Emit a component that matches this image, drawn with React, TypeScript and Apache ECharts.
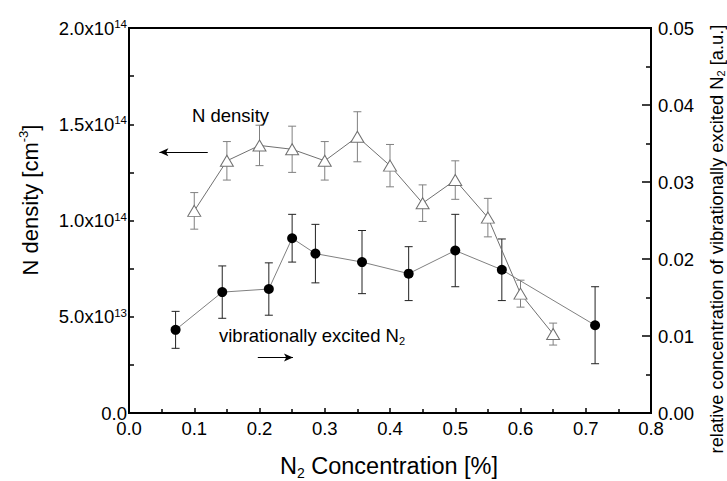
import React, { useEffect, useRef } from "react";
import * as echarts from "echarts";

// N density (left axis), triangles
const nX = [0.1, 0.15, 0.2, 0.25, 0.3, 0.35, 0.4, 0.45, 0.5, 0.55, 0.6, 0.65];
const nDensity = [1.05e14, 1.31e14, 1.39e14, 1.37e14, 1.31e14, 1.435e14, 1.285e14, 1.09e14, 1.21e14, 1.015e14, 0.62e14, 0.41e14];
const nErr = [0.095e14, 0.1e14, 0.105e14, 0.12e14, 0.1e14, 0.13e14, 0.11e14, 0.095e14, 0.1e14, 0.1e14, 0.07e14, 0.057e14];

// vibrationally excited N2 (right axis), circles
const vX = [0.0714, 0.1429, 0.2143, 0.25, 0.2857, 0.3571, 0.4286, 0.5, 0.5714, 0.7143];
const vib = [0.0108, 0.0157, 0.0161, 0.0227, 0.0207, 0.0196, 0.0181, 0.0211, 0.0186, 0.0114];
const vErr = [0.0024, 0.0034, 0.0034, 0.0031, 0.0038, 0.0041, 0.0035, 0.0047, 0.004, 0.005];

const xTicks = { min: 0, max: 0.8, interval: 0.1 };
const yLeftTicks = { min: 0, max: 2e14, interval: 0.5e14 };
const yRightTicks = { min: 0, max: 0.05, interval: 0.01 };

const FONT = "'Liberation Sans', Arial, Helvetica, sans-serif";
const TICK_FS = 18.5;

function errorBar(color: string) {
  return (params: any, api: any) => {
    const x = api.value(0);
    const lo = api.coord([x, api.value(1)]);
    const hi = api.coord([x, api.value(2)]);
    const w = 4;
    const style = { stroke: color, lineWidth: 1 };
    return {
      type: "group",
      children: [
        { type: "line", shape: { x1: lo[0], y1: lo[1], x2: hi[0], y2: hi[1] }, style },
        { type: "line", shape: { x1: lo[0] - w, y1: lo[1], x2: lo[0] + w, y2: lo[1] }, style },
        { type: "line", shape: { x1: hi[0] - w, y1: hi[1], x2: hi[0] + w, y2: hi[1] }, style },
      ],
    };
  };
}

export default function App() {
  const ref = useRef<HTMLDivElement>(null);
  useEffect(() => {
    if (!ref.current) return;
    const chart = echarts.init(ref.current, undefined, { renderer: "svg" });
    const axisLine = { show: true, lineStyle: { color: "#000", width: 2 } };
    const option: any = {
      animation: false,
      backgroundColor: "#fff",
      grid: { left: 129, right: 76, top: 28, bottom: 68, show: true, borderColor: "#000", borderWidth: 2 },
      xAxis: {
        type: "value",
        ...xTicks,
        axisLine,
        axisTick: { show: true, inside: true, length: 5, lineStyle: { color: "#000", width: 1.5 } },
        minorTick: { show: true, splitNumber: 2, length: 4, lineStyle: { color: "#000", width: 1.5 } },
        splitLine: { show: false },
        axisLabel: { margin: 6, color: "#000", fontSize: TICK_FS, fontFamily: FONT, formatter: (v: number) => v.toFixed(1) },
      },
      yAxis: [
        {
          type: "value",
          ...yLeftTicks,
          position: "left",
          axisLine,
          axisTick: { show: true, inside: true, length: 5, lineStyle: { color: "#000", width: 1.5 } },
          minorTick: { show: true, splitNumber: 2, length: 5, lineStyle: { color: "#000", width: 1.5 } },
          splitLine: { show: false },
          axisLabel: {
            margin: 2,
            color: "#000",
            formatter: (v: number) => {
              if (v === 0) return "{b|0.0}";
              const e = Math.floor(Math.log10(v) + 1e-9);
              const m = (v / Math.pow(10, e)).toFixed(1);
              return `{b|${m}x10}{s|${e}}`;
            },
            rich: {
              b: { fontSize: TICK_FS, fontFamily: FONT, color: "#000", lineHeight: 20 },
              s: { fontSize: 11.5, fontFamily: FONT, color: "#000", lineHeight: 11, verticalAlign: "top" },
            },
          },
        },
        {
          type: "value",
          ...yRightTicks,
          position: "right",
          axisLine,
          axisTick: { show: true, inside: true, length: 9, lineStyle: { color: "#000", width: 1.5 } },
          minorTick: { show: true, splitNumber: 2, length: 5, lineStyle: { color: "#000", width: 1.5 } },
          splitLine: { show: false },
          axisLabel: { margin: 7, color: "#000", fontSize: TICK_FS, fontFamily: FONT, formatter: (v: number) => v.toFixed(2) },
        },
      ],
      graphic: [
        {
          type: "text",
          x: 30,
          y: 200,
          rotation: Math.PI / 2,
          style: {
            text: "{a|N density [cm}{s|-3}{a|]}",
            align: "center",
            verticalAlign: "middle",
            rich: {
              a: { fontSize: 22, fontFamily: FONT, fill: "#000", lineHeight: 26 },
              s: { fontSize: 13, fontFamily: FONT, fill: "#000", lineHeight: 12, verticalAlign: "top" },
            },
          },
        },
        {
          type: "text",
          x: 716,
          y: 239,
          rotation: Math.PI / 2,
          style: {
            text: "{a|relative concentration of vibrationally excited N}{s|2}{a| [a.u.]}",
            align: "center",
            verticalAlign: "middle",
            rich: {
              a: { fontSize: 18.3, fontFamily: FONT, fill: "#000", lineHeight: 21 },
              s: { fontSize: 11, fontFamily: FONT, fill: "#000", lineHeight: 10, verticalAlign: "bottom" },
            },
          },
        },
        {
          type: "text",
          x: 389,
          y: 466,
          style: {
            text: "{a|N}{s|2}{a| Concentration [%]}",
            align: "center",
            verticalAlign: "middle",
            rich: {
              a: { fontSize: 23.5, fontFamily: FONT, fill: "#000", lineHeight: 27 },
              s: { fontSize: 14, fontFamily: FONT, fill: "#000", lineHeight: 12, verticalAlign: "bottom" },
            },
          },
        },
        {
          type: "text",
          x: 192,
          y: 106,
          style: { text: "N density", fontSize: 18.5, fontFamily: FONT, fill: "#000" },
        },
        {
          type: "text",
          x: 219,
          y: 324,
          style: {
            text: "{a|vibrationally excited N}{s|2}",
            rich: {
              a: { fontSize: 18.5, fontFamily: FONT, fill: "#000", lineHeight: 22 },
              s: { fontSize: 11, fontFamily: FONT, fill: "#000", lineHeight: 10, verticalAlign: "bottom" },
            },
          },
        },
      ],
      series: [
        {
          type: "custom",
          yAxisIndex: 0,
          renderItem: errorBar("#808080"),
          encode: { x: 0, y: [1, 2] },
          data: nX.map((x, i) => [x, nDensity[i] - nErr[i], nDensity[i] + nErr[i]]),
          z: 1,
        },
        {
          type: "line",
          yAxisIndex: 0,
          data: nX.map((x, i) => [x, nDensity[i]]),
          symbol: "triangle",
          symbolSize: [13, 11],
          showAllSymbol: true,
          itemStyle: { color: "#fff", borderColor: "#707070", borderWidth: 1 },
          lineStyle: { color: "#707070", width: 1 },
          z: 3,
          markLine: {
            silent: true,
            symbol: ["none", "arrow"],
            symbolSize: [6, 9],
            label: { show: false },
            lineStyle: { color: "#000", width: 1, type: "solid" },
            data: [[{ coord: [0.1207, 1.354e14] }, { coord: [0.0466, 1.354e14] }]],
          },
        },
        {
          type: "custom",
          yAxisIndex: 1,
          renderItem: errorBar("#222"),
          encode: { x: 0, y: [1, 2] },
          data: vX.map((x, i) => [x, vib[i] - vErr[i], vib[i] + vErr[i]]),
          z: 2,
        },
        {
          type: "line",
          yAxisIndex: 1,
          data: vX.map((x, i) => [x, vib[i]]),
          symbol: "circle",
          symbolSize: 10,
          showAllSymbol: true,
          itemStyle: { color: "#000", borderColor: "#000", borderWidth: 0 },
          lineStyle: { color: "#808080", width: 1 },
          z: 4,
          markLine: {
            silent: true,
            symbol: ["none", "arrow"],
            symbolSize: [6, 9],
            label: { show: false },
            lineStyle: { color: "#000", width: 1, type: "solid" },
            data: [[{ coord: [0.1974, 0.00721] }, { coord: [0.2513, 0.00721] }]],
          },
        },
      ],
    };
    chart.setOption(option);
    return () => chart.dispose();
  }, []);
  return <div ref={ref} style={{ position: "fixed", left: 0, top: 0, width: 727, height: 481, background: "#fff" }} />;
}
